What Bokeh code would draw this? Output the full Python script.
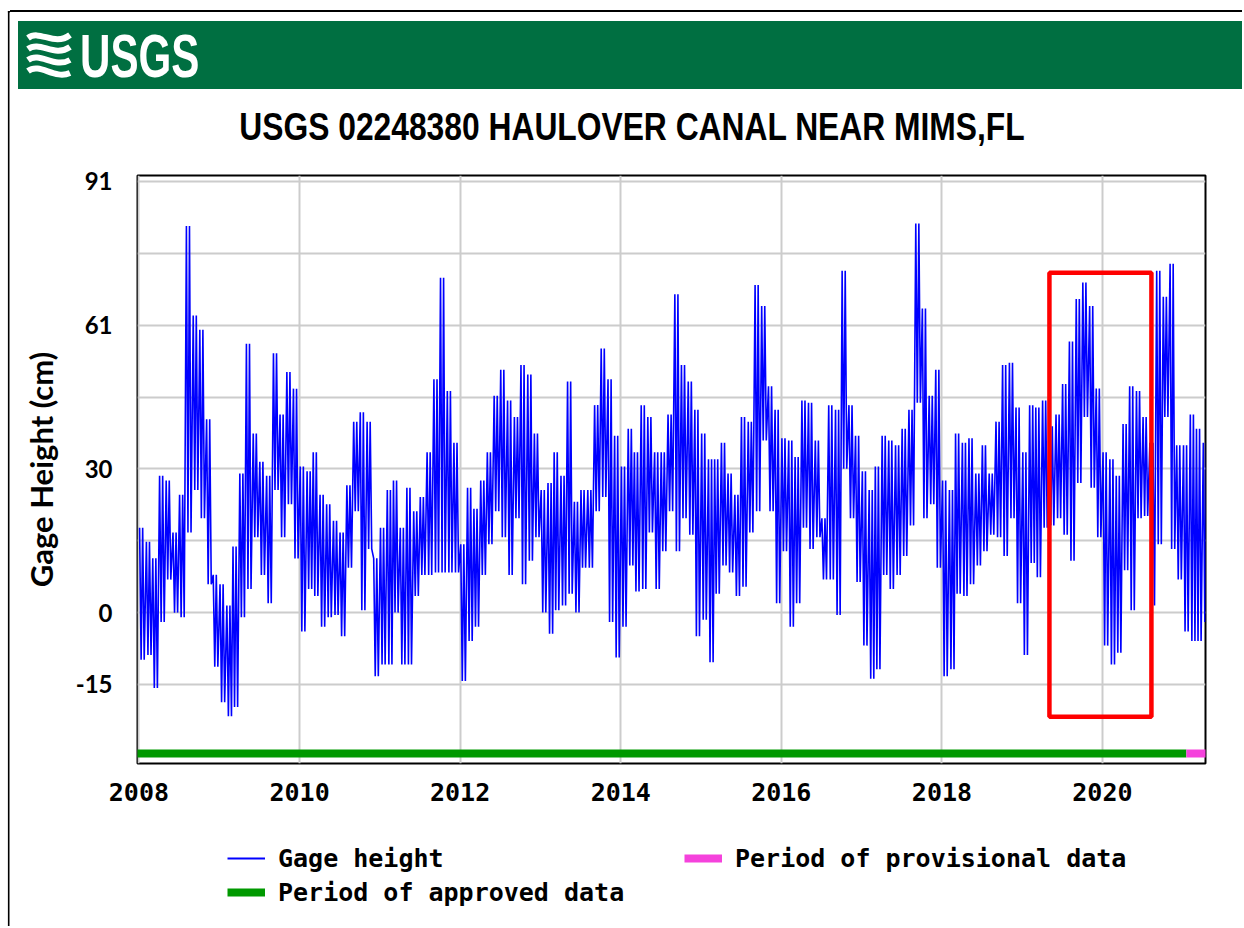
import pandas as pd
from bokeh.plotting import figure
from bokeh.layouts import column, row
from bokeh.models import (FixedTicker, DatetimeTickFormatter, Range1d, BoxAnnotation, Div,
                          Legend, LegendItem, ColumnDataSource, CustomJSTickFormatter)
from bokeh.embed import file_html
from bokeh.resources import INLINE

# ---------------- data (cm) ----------------
# monthly high / low gage height, Jan..Dec
high_2008 = [18, 15, 11.5, 29, 28, 17, 25, 82, 63, 60, 41, 8]
low_2008 = [-10, -9, -16, -2, 7, 0, -1, 17, 26, 20, 6, -11.5]
high_2009 = [6, 1.5, 14, 29.5, 57, 38, 32, 29, 55, 42, 51, 47.5]
low_2009 = [-19, -22, -20, -1, 5, 16, 8, 2, 26, 16, 23, 11.5]
high_2010 = [31, 30, 34, 25, 23, 19.5, 17, 27, 40.5, 42.5, 40.5, 11.5]
low_2010 = [-4, 5, 3.5, -3, -1, -0.5, -5, 9.5, 21.5, 0.5, 13.5, -13.5]
high_2011 = [18, 26, 28, 18, 26.5, 21.5, 24.5, 34, 49.5, 71, 47, 36]
low_2011 = [-11, -11, 0, -11, -11, 3.5, 8, 8, 8.5, 8.5, 8.5, 8.5]
high_2012 = [14.5, 26.5, 22, 28, 34, 46, 51.5, 45, 41.5, 52.5, 50.5, 38]
low_2012 = [-14.5, -6, -3, 8, 14.5, 21.5, 16, 8, 20, 6, 11, 16]
high_2013 = [26, 27.5, 34, 29, 49, 23.5, 26, 26, 44, 56, 49.5, 37.5]
low_2013 = [0, -4.5, 0.5, 1.5, 4, 0, 9.5, 9.5, 21.5, 24.5, -2, -9.5]
high_2014 = [31, 39, 34, 44, 41.5, 34, 34, 42, 67.5, 52.5, 49, 43]
low_2014 = [-3, 10, 4.5, 5, 17, 5, 13, 21.5, 13, 20, 16.5, -5]
high_2015 = [38, 32.5, 32.5, 36, 29.5, 25, 41.5, 40.5, 69.5, 65, 48, 43]
low_2015 = [-1.5, -10.5, 4, 10, 8.5, 3.5, 5.5, 17, 21.5, 36.5, 21.5, 2]
high_2016 = [37, 36.5, 33, 45, 44.5, 36.5, 20, 44, 43, 72.5, 44, 37.5]
low_2016 = [13, -3, 2, 18, 13.5, 16, 7, 7, -0.5, 30.5, 20, 6.5]
high_2017 = [30, 26, 31, 37.5, 36.5, 35.5, 39, 43, 82.5, 64.5, 46, 51.5]
low_2017 = [-7, -14, -12, 8, 5, 8, 12, 18.5, 44.5, 20, 23, 9.5]
high_2018 = [28, 26, 38, 36, 37, 29.5, 35.5, 29.5, 40.5, 52.5, 53, 43.5]
low_2018 = [-13.5, -12, 4, 3.5, 6, 10, 13, 16.5, 16, 12, 20, 2]
high_2019 = [34, 44, 43.5, 45, 39.5, 42, 48.5, 57.5, 66.5, 70, 65, 47.5]
low_2019 = [-9, 10.5, 7.5, 18, 18.5, 20, 16.5, 11, 27.5, 41.5, 26.5, 16]
high_2020 = [34, 32.5, 29, 40, 48, 47, 41.5, 36, 72.5, 67, 74, 35.5]
low_2020 = [-7, -11, -8.5, 9, 0.5, 20, 20.5, 1.5, 14.5, 41.5, 13.5, 7]
high_2021 = [35.5, 42, 39, 36]
low_2021 = [-4, -6, -6, -2]

years = list(range(2008, 2022))
highs = [high_2008, high_2009, high_2010, high_2011, high_2012, high_2013, high_2014,
         high_2015, high_2016, high_2017, high_2018, high_2019, high_2020, high_2021]
lows = [low_2008, low_2009, low_2010, low_2011, low_2012, low_2013, low_2014,
        low_2015, low_2016, low_2017, low_2018, low_2019, low_2020, low_2021]

approved_period = ["2007-12-02", "2021-01-17"]
provisional_period = ["2021-01-17", "2021-04-26"]
highlight_period = ["2019-05-05", "2020-08-11"]
highlight_range_cm = [-22.1, 72.1]

x_tick_years = [2008, 2010, 2012, 2014, 2016, 2018, 2020]
y_grid_cm = [-15.24, 0, 15.24, 30.48, 45.72, 60.96, 76.2, 91.44]
y_label_cm = [-15.24, 0, 30.48, 60.96, 91.44]

title_text = "USGS 02248380 HAULOVER CANAL NEAR MIMS,FL"
logo_text = "USGS"
legend_labels = ["Gage height", "Period of approved data", "Period of provisional data"]

BLUE, GREEN, PINK, RED, BANNER = "#0000ff", "#009900", "#f542dc", "#ff0000", "#006f41"

# ---------------- build series (swings between monthly high and low) -------------
dates, heights = [], []
for yr, hi, lo in zip(years, highs, lows):
    for m, (h, l) in enumerate(zip(hi, lo), start=1):
        for d, v in ((4, h), (11, l), (18, h), (25, l)):
            dates.append(pd.Timestamp(yr, m, d))
            heights.append(v)
src = ColumnDataSource(dict(date=dates, height=heights))

BAR_LEVEL = -29.9
W = 1232          # width of the column (page x offset 10)
H_HDR, H_MAIN, H_LEG = 150, 668, 108
H_ALL = H_HDR + H_MAIN + H_LEG

# ---------------- left border strip ----------------
strip = figure(width=10, height=H_ALL, x_range=Range1d(0, 10), y_range=Range1d(H_ALL, 0),
               x_axis_type=None, y_axis_type=None, output_backend="svg",
               toolbar_location=None, min_border=0, outline_line_color=None,
               border_fill_color="white")
strip.segment(x0=[8.2], y0=[10.4], x1=[8.2], y1=[H_ALL], line_color="black", line_width=1.6)
strip.segment(x0=[7.4], y0=[11.2], x1=[10], y1=[11.2], line_color="black", line_width=1.6)

# ---------------- header: banner + title ----------------
waves = "".join(
    f'<path d="M2,{y0} C14,{y0 - 9} 28,{y0 + 9} 44,{y1}" stroke="white" stroke-width="6" fill="none"/>'
    for y0, y1 in ((8, 5), (19, 17), (30, 30), (41, 43)))
header_html = f"""
<div style="position:relative;width:{W}px;height:{H_HDR}px;margin:0;padding:0;overflow:hidden;background:white;">
 <div style="position:absolute;left:0;top:10.4px;width:{W}px;height:1.6px;background:black;"></div>
 <div style="position:absolute;left:8px;top:21px;width:{W - 8}px;height:68px;background:{BANNER};"></div>
 <svg style="position:absolute;left:16px;top:30px;" width="48" height="50" viewBox="0 0 48 50">{waves}</svg>
 <div style="position:absolute;left:70px;top:24.5px;font-family:'Liberation Sans';font-weight:bold;
      font-size:62px;line-height:62px;color:white;white-space:nowrap;
      transform:scale(0.68,1);transform-origin:0 50%;">{logo_text}</div>
 <div style="position:absolute;left:122px;width:1000px;top:107px;text-align:center;
      font-family:'Liberation Sans';font-weight:bold;font-size:39px;line-height:39px;color:black;
      white-space:nowrap;transform:scale(0.815,1);transform-origin:50% 50%;">{title_text}</div>
</div>
"""
hdr = Div(text=header_html, width=W, height=H_HDR, margin=0,
          styles={"margin": "0", "padding": "0"})

# ---------------- main chart ----------------
p = figure(width=W, height=H_MAIN, x_axis_type="datetime",
           x_range=Range1d(pd.Timestamp("2007-12-25 12:00"), pd.Timestamp("2021-04-14")),
           y_range=Range1d(-32.0, 92.7),
           output_backend="svg", toolbar_location=None,
           min_border_left=127, min_border_right=37, min_border_top=25, min_border_bottom=55,
           background_fill_color="white", border_fill_color="white",
           outline_line_color="black", outline_line_width=2)

xt = [pd.Timestamp(y, 1, 1).value // 10**6 for y in x_tick_years]
p.xgrid.ticker = FixedTicker(ticks=xt)
p.ygrid.ticker = FixedTicker(ticks=y_grid_cm)
for g in (p.xgrid, p.ygrid):
    g.grid_line_color = "#cccccc"
    g.grid_line_width = 2

p.xaxis.ticker = FixedTicker(ticks=xt)
p.xaxis.formatter = DatetimeTickFormatter(years="%Y", months="%Y", days="%Y", hours="%Y")
p.xaxis.axis_line_color = None
p.xaxis.major_tick_line_color = None
p.xaxis.minor_tick_line_color = None
p.xaxis.major_tick_out = 0
p.xaxis.major_tick_in = 0
p.xaxis.minor_tick_out = 0
p.xaxis.major_label_text_font = "DejaVu Sans Mono"
p.xaxis.major_label_text_font_style = "bold"
p.xaxis.major_label_text_font_size = "25px"
p.xaxis.major_label_text_color = "black"
p.xaxis.major_label_standoff = 19

p.yaxis.ticker = FixedTicker(ticks=y_label_cm)
p.yaxis.formatter = CustomJSTickFormatter(code="return Math.round(tick).toFixed(0)")
p.yaxis.axis_line_color = None
p.yaxis.major_tick_line_color = None
p.yaxis.minor_tick_line_color = None
p.yaxis.major_tick_out = 0
p.yaxis.major_tick_in = 0
p.yaxis.minor_tick_out = 0
p.yaxis.major_label_text_font = "Lato"
p.yaxis.major_label_text_font_style = "bold"
p.yaxis.major_label_text_font_size = "24px"
p.yaxis.major_label_text_color = "black"
p.yaxis.major_label_standoff = 25
p.yaxis.axis_label = "Gage Height (cm)"
p.yaxis.axis_label_text_font = "Lato"
p.yaxis.axis_label_text_font_style = "bold"
p.yaxis.axis_label_text_font_size = "31px"
p.yaxis.axis_label_text_color = "black"
p.yaxis.axis_label_standoff = 13

p.line("date", "height", source=src, line_color=BLUE, line_width=1.6)
p.line([pd.Timestamp(approved_period[0]), pd.Timestamp(approved_period[1])],
       [BAR_LEVEL, BAR_LEVEL], line_color=GREEN, line_width=8)
p.line([pd.Timestamp(provisional_period[0]), pd.Timestamp(provisional_period[1])],
       [BAR_LEVEL, BAR_LEVEL], line_color=PINK, line_width=8)

p.add_layout(BoxAnnotation(left=pd.Timestamp(highlight_period[0]),
                           right=pd.Timestamp(highlight_period[1]),
                           bottom=highlight_range_cm[0], top=highlight_range_cm[1],
                           fill_alpha=0, line_color=RED, line_alpha=1, line_width=4.5))

# ---------------- legend strip (frame aligned with the chart frame) ----------------
lg = figure(width=W, height=H_LEG, x_range=Range1d(0, 10), y_range=Range1d(0, 10),
            x_axis_type=None, y_axis_type=None, output_backend="svg", toolbar_location=None,
            min_border=0, outline_line_color=None, border_fill_color="white")
r1 = lg.line(x=[-5, -4], y=[-5, -5], line_color=BLUE, line_width=2)
r2 = lg.line(x=[-5, -4], y=[-5, -5], line_color=GREEN, line_width=8)
r3 = lg.line(x=[-5, -4], y=[-5, -5], line_color=PINK, line_width=8)
legend = Legend(items=[LegendItem(label=legend_labels[0], renderers=[r1]),
                       LegendItem(label=legend_labels[1], renderers=[r2]),
                       LegendItem(label=legend_labels[2], renderers=[r3])],
                location=(90, 19), orientation="vertical", nrows=2,
                glyph_width=38, glyph_height=20, label_height=30, label_width=402,
                label_standoff=13, spacing=4, padding=0, margin=0,
                border_line_color=None, background_fill_alpha=0,
                label_text_font="DejaVu Sans Mono", label_text_font_style="bold",
                label_text_font_size="25px", label_text_color="black")
lg.add_layout(legend)

layout = row(strip, column(hdr, p, lg, spacing=0), spacing=0)
open("out.html", "w").write(file_html(layout, INLINE))
